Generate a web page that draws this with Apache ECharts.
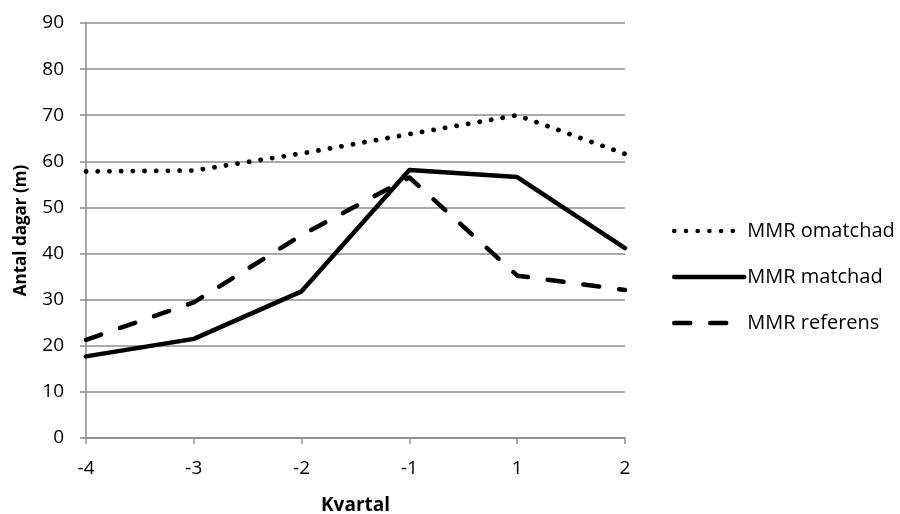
<!DOCTYPE html>
<html>
<head>
<meta charset="utf-8">
<script src="https://cdn.jsdelivr.net/npm/echarts@6/dist/echarts.min.js"></script>
<style>
  html, body { margin: 0; padding: 0; background: #fff; }
  #chart { width: 900px; height: 514px; }
</style>
</head>
<body>
<div id="chart"></div>
<script>
// Quarters relative to the event, and days per series
const quarters = ['-4', '-3', '-2', '-1', '1', '2'];
const omatchad = [57.8, 58.0, 61.7, 65.9, 70.0, 61.6];
const matchad  = [17.7, 21.5, 31.8, 58.1, 56.6, 41.2];
const referens = [21.3, 29.4, 44.0, 56.5, 35.2, 32.1];
const yTicks = { min: 0, max: 90, interval: 10 };

const font = '"Open Sans", "Liberation Sans", sans-serif';
const grey = '#8c8c8c';

const chart = echarts.init(document.getElementById('chart'), null, { renderer: 'canvas' });

function series(name, data, type, width) {
  return {
    name: name,
    type: 'line',
    data: data,
    symbol: 'none',
    color: '#000',
    animation: false,
    itemStyle: { color: '#000' },
    lineStyle: { color: '#000', width: width, type: type, cap: 'round', join: 'round' }
  };
}

chart.setOption({
  animation: false,
  grid: { left: 86, right: 275, top: 23, bottom: 76, containLabel: false, outerBoundsMode: 'none' },
  legend: {
    orient: 'vertical',
    left: 667,
    top: 216,
    itemWidth: 70,
    itemHeight: 14,
    itemGap: 26,
    itemStyle: { opacity: 0 },
    lineStyle: { width: 4.5 },
    textStyle: { fontFamily: font, fontSize: 20, color: '#000', padding: [0, 0, 0, -2] },
    data: ['MMR omatchad', 'MMR matchad', 'MMR referens']
  },
  xAxis: {
    type: 'category',
    data: quarters,
    boundaryGap: false,
    name: 'Kvartal',
    nameLocation: 'middle',
    nameGap: 58,
    nameTextStyle: { fontFamily: font, fontSize: 19, fontWeight: 'bold', color: '#000' },
    axisLine: { lineStyle: { color: grey, width: 1.5 } },
    axisTick: { show: true, length: 6, alignWithLabel: true, lineStyle: { color: grey, width: 1.5 } },
    axisLabel: { fontFamily: font, fontSize: 19, color: '#000', margin: 21 },
    splitLine: { show: false }
  },
  yAxis: {
    type: 'value',
    min: yTicks.min,
    max: yTicks.max,
    interval: yTicks.interval,
    name: 'Antal dagar (m)',
    nameLocation: 'middle',
    nameRotate: 90,
    nameGap: 56,
    nameTextStyle: { fontFamily: font, fontSize: 17, fontWeight: 'bold', color: '#000' },
    axisLine: { show: true, lineStyle: { color: grey, width: 1.5 } },
    axisTick: { show: true, length: 6, lineStyle: { color: grey, width: 1.5 } },
    axisLabel: { fontFamily: font, fontSize: 19, color: '#000', margin: 22 },
    splitLine: { show: true, lineStyle: { color: grey, width: 1.5 } }
  },
  series: [
    series('MMR omatchad', omatchad, [0.1, 11.6], 4.8),
    series('MMR matchad', matchad, 'solid', 4.5),
    series('MMR referens', referens, [16, 20], 4.5)
  ]
});
</script>
</body>
</html>
